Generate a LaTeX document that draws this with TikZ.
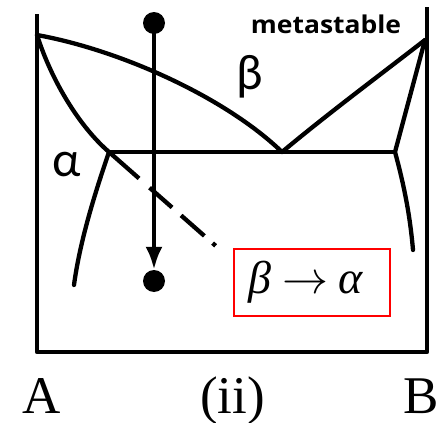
\documentclass[tikz,border=0pt]{standalone}
\usepackage{fix-cm}
\usepackage{fontspec}
\setmainfont{Liberation Serif}
\newfontfamily\calib{Carlito}
\newfontfamily\osans{Open Sans}
\usetikzlibrary{arrows.meta}
\begin{document}
\begin{tikzpicture}[x=1pt,y=-1pt,
  phase/.style={line width=4.3pt, line cap=round, line join=round},
  dotnode/.style={circle, fill=black, inner sep=0pt, minimum size=22pt},
  bigserif/.style={font=\fontsize{53}{53}\selectfont, inner sep=0pt, anchor=base},
  greek/.style={font=\calib\fontsize{50}{50}\selectfont, inner sep=0pt, anchor=center},
]
\useasboundingbox (0,0) rectangle (440,423);
% key points
\coordinate (FL) at (37,14);
\coordinate (CL) at (37,352);
\coordinate (CR) at (427,352);
\coordinate (FR) at (427,7);
\coordinate (LA) at (37,35);
\coordinate (RB) at (425,40);
\coordinate (E) at (282,152);
\coordinate (SA) at (109,152);
\coordinate (SB) at (395,152);
\coordinate (AL) at (74,285);
\coordinate (BL) at (413,250);
\coordinate (DE) at (217,247);
% frame
\draw[phase, line cap=butt] (FL) -- (CL) -- (CR) -- (FR);
% liquidus
\draw[phase] (LA) .. controls (120,50) and (225,97) .. (E);
\draw[phase] (E) .. controls (330,112) and (380,75) .. (RB);
% eutectic line
\draw[phase] (SA) -- (SB);
% alpha solvus
\draw[phase] (LA) .. controls (52,82) and (80,127) .. (SA);
\draw[phase] (SA) .. controls (96,190) and (80,240) .. (AL);
% beta solvus
\draw[phase] (RB) -- (SB);
\draw[phase] (SB) .. controls (404,185) and (410,215) .. (BL);
% metastable extension
\draw[line width=4.3pt, dash pattern=on 40pt off 14pt on 30pt off 12pt on 31pt off 11pt on 4pt off 40pt] (SA) -- (DE);
% cooling path
\node[dotnode] (top) at (154,23) {};
\node[dotnode] (bot) at (154,281) {};
\draw[line width=4.3pt, -{Latex[length=23pt,width=17pt]}] (top.center) -- (bot.north);
% labels
\node[greek] (beta) at (249.5,76.5) {β};
\node[greek] (alpha) at (66.5,164.5) {α};
\node[font=\osans\bfseries\fontsize{24.5}{24.5}\selectfont, inner sep=0pt, anchor=base] (meta) at (326,33) {\scalebox{1.08}[1]{metastable}};
\node[bigserif] (A) at (41.5,413) {A};
\node[bigserif] (ii) at (232.5,413) {(ii)};
\node[bigserif, anchor=base east] (B) at (439.5,413) {B};
\node[draw=red, line width=1.8pt, minimum width=156pt, minimum height=67pt, inner sep=0pt,
      font=\fontsize{46}{46}\selectfont] (box) at (312,282.5)
      {\itshape β\hspace{11pt}$\rightarrow$\hspace{10pt}α\hspace*{12pt}};
\end{tikzpicture}
\end{document}
